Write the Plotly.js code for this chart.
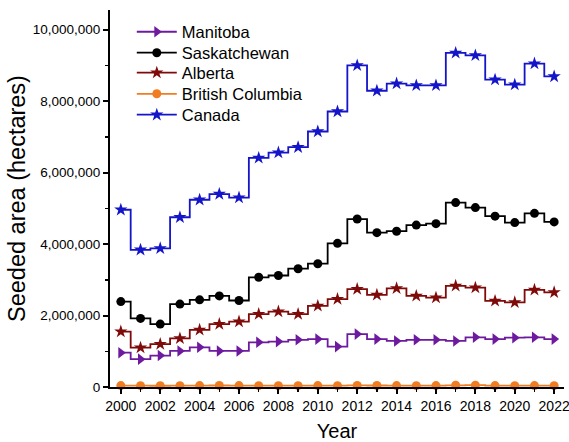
<!DOCTYPE html>
<html>
<head>
<meta charset="utf-8">
<script src="https://cdn.plot.ly/plotly-3.0.1.min.js"></script>
<style>html,body{margin:0;padding:0;background:#fff;}#chart{width:569px;height:442px;}</style>
</head>
<body>
<div id="chart"></div>
<script>
var years = [2000,2001,2002,2003,2004,2005,2006,2007,2008,2009,2010,2011,2012,2013,2014,2015,2016,2017,2018,2019,2020,2021,2022];
var manitoba = [960000,780000,880000,1010000,1110000,1010000,1010000,1250000,1270000,1320000,1340000,1130000,1480000,1340000,1290000,1320000,1320000,1290000,1390000,1340000,1380000,1390000,1340000];
var saskatchewan = [2390000,1920000,1760000,2320000,2440000,2550000,2420000,3070000,3120000,3310000,3450000,4020000,4700000,4320000,4360000,4530000,4570000,5160000,5020000,4780000,4600000,4860000,4620000];
var alberta = [1550000,1100000,1200000,1360000,1600000,1760000,1830000,2040000,2110000,2040000,2270000,2460000,2740000,2580000,2760000,2550000,2500000,2830000,2780000,2410000,2370000,2720000,2650000];
var britishColumbia = [40000,38000,35000,37000,40000,42000,40000,38000,36000,38000,40000,38000,45000,42000,40000,38000,40000,48000,50000,40000,38000,40000,38000];
var canada = [4960000,3840000,3880000,4750000,5240000,5400000,5300000,6410000,6560000,6710000,7150000,7710000,9000000,8290000,8490000,8440000,8440000,9350000,9280000,8600000,8460000,9050000,8690000];

var names = ['Manitoba', 'Saskatchewan', 'Alberta', 'British Columbia', 'Canada'];
var values = [manitoba, saskatchewan, alberta, britishColumbia, canada];
var colors = ['#6E1A9E', '#000000', '#7F0A0A', '#F07D22', '#1414C8'];
var symbols = ['triangle-right', 'circle', 'star', 'circle', 'star'];
var sizes = [10, 9, 10, 9, 10];
var legendY = [0.9416, 0.886, 0.833, 0.777, 0.7215];

var data = names.map(function (n, i) {
  return {
    x: years, y: values[i], name: n, type: 'scatter', mode: 'lines+markers',
    line: {shape: 'hvh', color: colors[i], width: 1.8},
    marker: {symbol: symbols[i], size: sizes[i], color: colors[i]},
    cliponaxis: false,
    legend: i === 0 ? 'legend' : 'legend' + (i + 1)
  };
});

var layout = {
  width: 569, height: 442,
  margin: {l: 110, r: 5, t: 10, b: 55},
  paper_bgcolor: '#fff', plot_bgcolor: '#fff',
  font: {family: 'Arial, Liberation Sans, sans-serif', color: '#000', size: 12},
  showlegend: true,
  xaxis: {
    range: [1999.45, 2022.5], dtick: 2, tick0: 2000,
    showline: true, linecolor: '#000', linewidth: 2, showgrid: false, zeroline: false,
    ticks: 'outside', ticklen: 5, tickwidth: 2, tickcolor: '#000',
    minor: {dtick: 1, tick0: 2000, ticks: 'outside', ticklen: 3, tickwidth: 1.5, tickcolor: '#000'},
    tickfont: {size: 14}, ticklabeloverflow: 'allow',
    title: {text: 'Year', font: {size: 20}, standoff: 12}
  },
  yaxis: {
    range: [0, 10550000], dtick: 2000000, tick0: 0, tickformat: ',d',
    showline: true, linecolor: '#000', linewidth: 2, showgrid: false, zeroline: false,
    ticks: 'outside', ticklen: 5, tickwidth: 2, tickcolor: '#000',
    minor: {dtick: 1000000, ticks: 'outside', ticklen: 3, tickwidth: 1.5, tickcolor: '#000'},
    tickfont: {size: 13.5},
    title: {text: 'Seeded area (hectares)', font: {size: 23.5}, standoff: 0}
  }
};
legendY.forEach(function (yy, i) {
  layout[i === 0 ? 'legend' : 'legend' + (i + 1)] = {
    x: 0.048, y: yy, xanchor: 'left', yanchor: 'middle',
    font: {size: 16.5}, bgcolor: 'rgba(0,0,0,0)', itemwidth: 40
  };
});
Plotly.newPlot('chart', data, layout, {displayModeBar: false, staticPlot: true});
</script>
</body>
</html>
